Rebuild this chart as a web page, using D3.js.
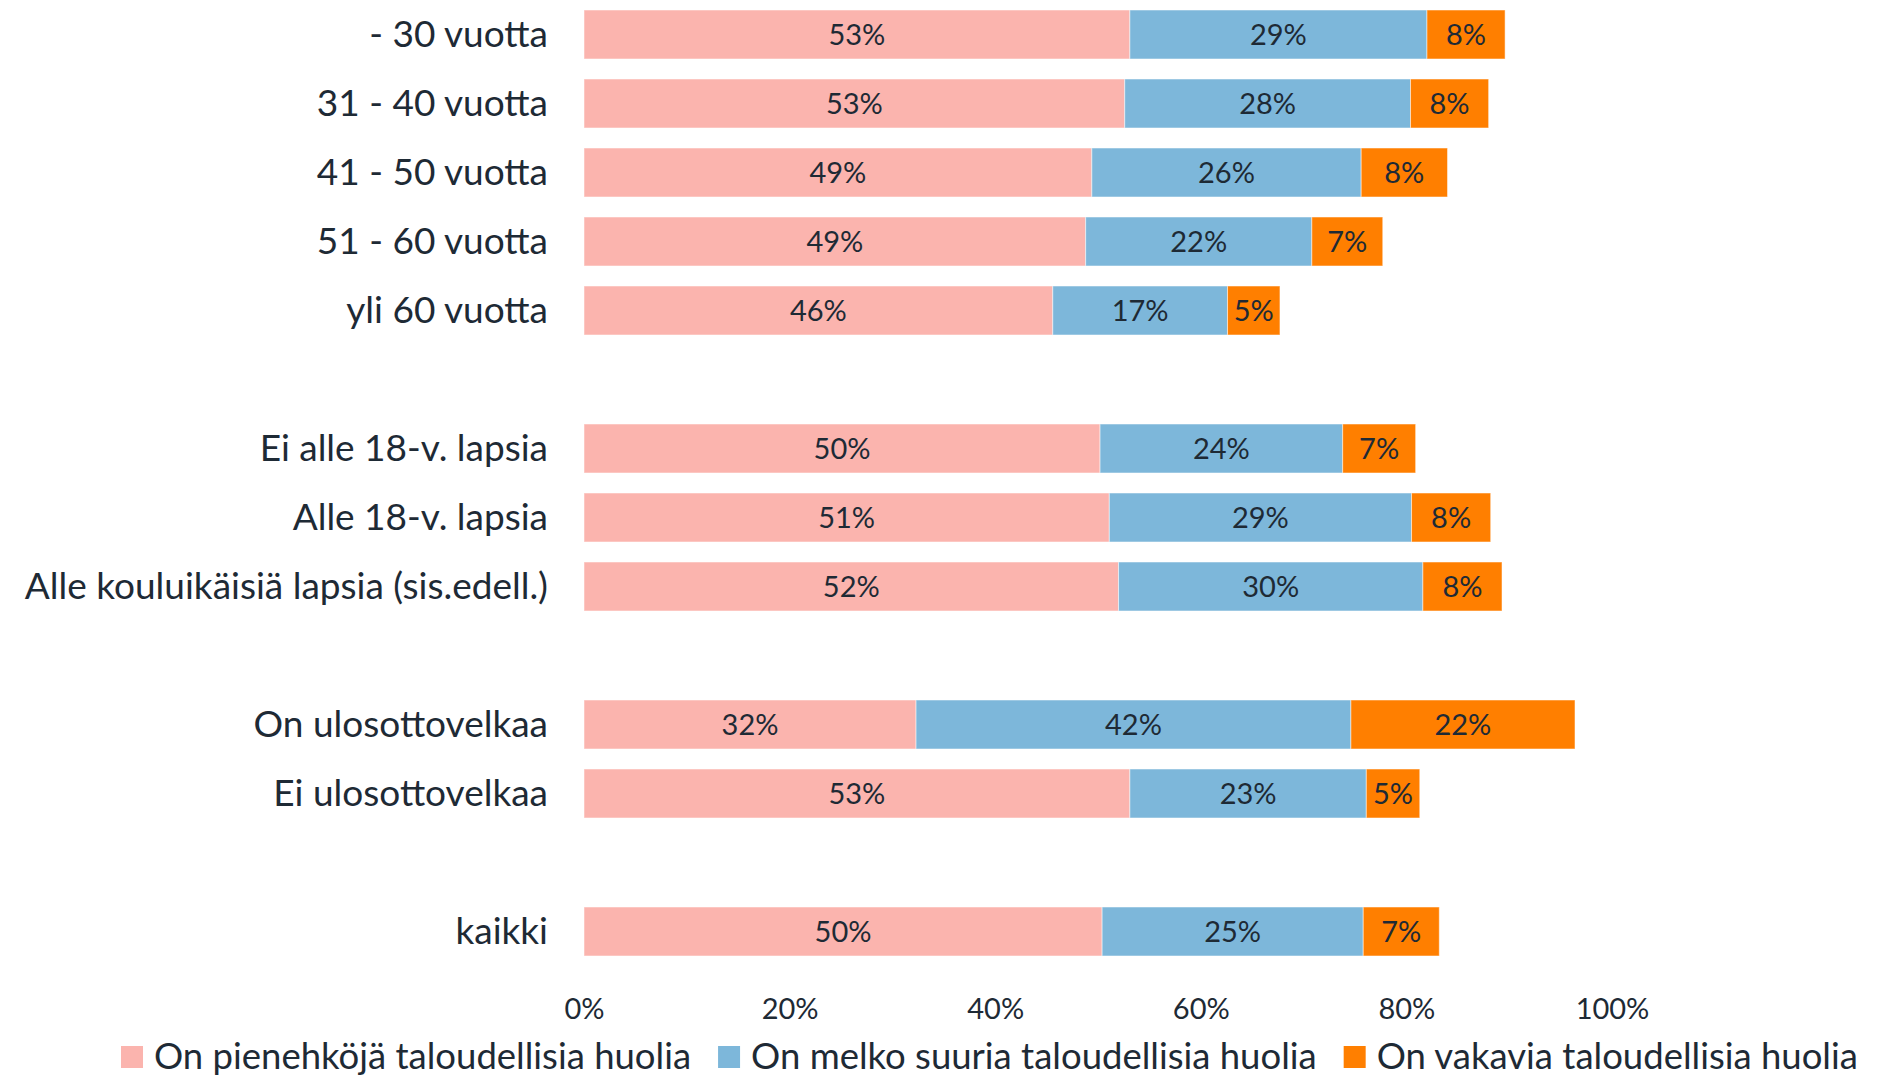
<!DOCTYPE html>
<html>
<head>
<meta charset="utf-8">
<script src="https://cdn.jsdelivr.net/npm/d3@7"></script>
<style>
  html, body { margin: 0; padding: 0; background: #fff; }
  svg { display: block; }
  text { font-family: Lato, "Noto Sans", sans-serif; fill: #1e2a35; }
</style>
</head>
<body>
<svg id="chart" width="1896" height="1080"></svg>
<script>
// ---- data ----
const categories = [
  "- 30 vuotta", "31 - 40 vuotta", "41 - 50 vuotta", "51 - 60 vuotta", "yli 60 vuotta",
  "",
  "Ei alle 18-v. lapsia", "Alle 18-v. lapsia", "Alle kouluikäisiä lapsia (sis.edell.)",
  "",
  "On ulosottovelkaa", "Ei ulosottovelkaa",
  "",
  "kaikki"
];
const seriesNames = [
  "On pienehköjä taloudellisia huolia",
  "On melko suuria taloudellisia huolia",
  "On vakavia taloudellisia huolia"
];
const pienehkoja = [53.1, 52.6, 49.4, 48.8, 45.6, null, 50.2, 51.1, 52.0, null, 32.3, 53.1, null, 50.4];
const melkoSuuria = [28.9, 27.8, 26.2, 22.0, 17.0, null, 23.6, 29.4, 29.6, null, 42.3, 23.0, null, 25.4];
const vakavia = [7.6, 7.6, 8.4, 6.9, 5.1, null, 7.1, 7.7, 7.7, null, 21.8, 5.2, null, 7.4];
const tickValues = [0, 20, 40, 60, 80, 100];
const colors = ["#fbb4ae", "#7db7da", "#ff7f00"];

// ---- build ----
const svg = d3.select("#chart");
const keys = categories.map((c, i) => "k" + i);
const seriesData = [pienehkoja, melkoSuuria, vakavia];

const x = d3.scaleLinear().domain([0, 100]).range([584, 1612]);
const y = d3.scaleBand().domain(keys).range([0, 966]).paddingInner(0.29).paddingOuter(0.145);

const rows = keys.map((k, i) => {
  let acc = 0;
  const segs = seriesData.map((s, j) => {
    const v = s[i];
    if (v == null) return null;
    const seg = { key: k, j, v, x0: acc, x1: acc + v };
    acc += v;
    return seg;
  }).filter(d => d);
  return { key: k, label: categories[i], segs };
});

// category labels
svg.append("g").selectAll("text")
  .data(rows.filter(r => r.label))
  .join("text")
  .attr("x", 548)
  .attr("y", d => y(d.key) + y.bandwidth() / 2)
  .attr("dy", "0.34em")
  .attr("text-anchor", "end")
  .attr("font-size", 37)
  .text(d => d.label);

// bars
const segs = rows.flatMap(r => r.segs);
svg.append("g").selectAll("rect")
  .data(segs)
  .join("rect")
  .attr("x", d => x(d.x0))
  .attr("y", d => y(d.key))
  .attr("width", d => x(d.x1) - x(d.x0))
  .attr("height", y.bandwidth())
  .attr("fill", d => colors[d.j])
  .attr("stroke", "#ffffff")
  .attr("stroke-opacity", 0.5)
  .attr("stroke-width", 1);

// value labels
svg.append("g").selectAll("text")
  .data(segs)
  .join("text")
  .attr("x", d => (x(d.x0) + x(d.x1)) / 2)
  .attr("y", d => y(d.key) + y.bandwidth() / 2)
  .attr("dy", "0.37em")
  .attr("text-anchor", "middle")
  .attr("font-size", 29)
  .text(d => Math.round(d.v) + "%");

// x axis
const axis = svg.append("g")
  .attr("transform", "translate(0,988)")
  .call(d3.axisBottom(x).tickValues(tickValues).tickFormat(d => d + "%").tickSize(0).tickPadding(10));
axis.select(".domain").remove();
axis.selectAll("text")
  .attr("font-size", 29)
  .attr("font-family", "Lato, 'Noto Sans', sans-serif")
  .attr("fill", "#1e2a35");

// legend
const legend = svg.append("g");
let lx = 121;
seriesNames.forEach((name, j) => {
  legend.append("rect")
    .attr("x", lx).attr("y", 1046).attr("width", 22).attr("height", 22)
    .attr("fill", colors[j]);
  const t = legend.append("text")
    .attr("x", lx + 33).attr("y", 1057).attr("dy", "0.34em")
    .attr("font-size", 36.5)
    .text(name);
  lx += 33 + t.node().getComputedTextLength() + 27;
});
</script>
</body>
</html>
